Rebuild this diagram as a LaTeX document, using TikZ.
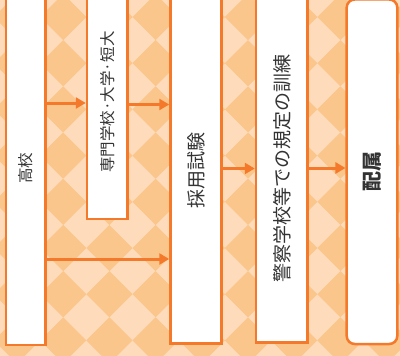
\documentclass[tikz,border=0pt]{standalone}
\usepackage{fontspec}
\setmainfont{Noto Sans CJK JP}
\usepackage{graphicx}
\usetikzlibrary{arrows.meta}
\definecolor{chklight}{RGB}{253,219,187}
\definecolor{chkdark}{RGB}{251,198,139}
\definecolor{flowor}{RGB}{244,121,42}
\definecolor{flowtxt}{RGB}{51,51,51}

\begin{document}
\begin{tikzpicture}[x=1pt,y=-1pt,
                    arr/.style={-{Triangle[length=10pt,width=11pt]},line width=3pt,draw=flowor}]
  \tikzstyle{box}=[rectangle,draw=flowor,line width=2.5pt,fill=white,text=flowtxt,inner sep=0pt]
  \tikzstyle{small}=[font=\fontsize{15.5}{18}\selectfont]
  \tikzstyle{big}=[font=\fontsize{19}{22}\selectfont]

  \useasboundingbox (0,0) rectangle (400,356);
  \clip (0,0) rectangle (400,356);

  % checker background
  \fill[chklight] (0,0) rectangle (400,356);
  \foreach \i in {0,...,8}
    \foreach \j in {0,...,7}
      \fill[chkdark] (17+46.2*\i,17+46.2*\j) +(-23.1,0) -- +(0,-23.1) -- +(23.1,0) -- +(0,23.1) -- cycle;

  \node[box,small,minimum width=39.5pt,minimum height=354pt]  (hs)     at (25.75,168)  {\rotatebox{90}{高校}};
  \node[box,small,minimum width=40.7pt,minimum height=234pt]  (univ)   at (107.35,102) {\rotatebox{90}{専門学校·大学·短大}};
  \node[box,big,minimum width=50.8pt,minimum height=347pt]    (exam)   at (195.9,170)  {\rotatebox{90}{採用試験}};
  \node[box,big,minimum width=51.7pt,minimum height=349pt]    (school) at (281.85,168) {\rotatebox{90}{警察学校等での規定の訓練}};
  \node[box,big,rounded corners=8pt,minimum width=50.6pt,minimum height=344.5pt]
                                                              (post)   at (372,171.75) {\rotatebox{90}{\fontsize{20}{24}\selectfont\bfseries 配属}};

  \draw[arr] (hs.east |- 0,103) -- (univ.west |- 0,103);
  \draw[arr] (univ.east |- 0,104.5) -- (exam.west |- 0,104.5);
  \draw[arr] (hs.east |- 0,259) -- (exam.west |- 0,259);
  \draw[arr] (exam.east |- 0,168.5) -- (school.west |- 0,168.5);
  \draw[arr] (school.east |- 0,168) -- (post.west |- 0,168);

\end{tikzpicture}
\end{document}
